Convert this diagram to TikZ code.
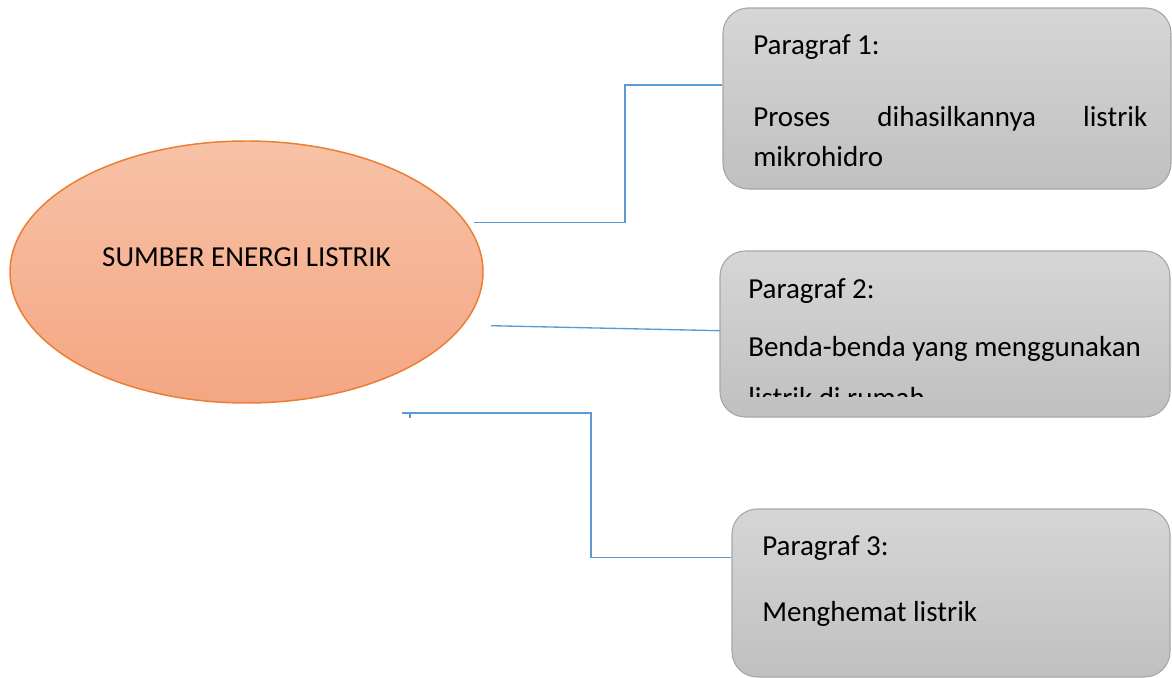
\documentclass[tikz,border=0pt]{standalone}
\usepackage{fontspec}
\setmainfont{Carlito}
\usetikzlibrary{shapes.geometric}
\definecolor{linkblue}{HTML}{5B9BD5}
\definecolor{ovaltop}{HTML}{F7C2A6}
\definecolor{ovalbot}{HTML}{F4A683}
\definecolor{ovalrim}{HTML}{ED7D31}
\definecolor{boxtop}{HTML}{D6D6D6}
\definecolor{boxbot}{HTML}{C0C0C0}
\definecolor{boxrim}{HTML}{A6A6A6}
\tikzset{
  link/.style={linkblue,line width=1pt},
  parabox/.style={rectangle,rounded corners=19pt,draw=boxrim,line width=0.8pt,
    top color=boxtop,bottom color=boxbot,inner sep=0pt},
  txt/.style={anchor=base west,inner sep=0pt,font=\fontsize{21.75pt}{26pt}\selectfont}
}
\begin{document}
\begin{tikzpicture}[x=0.75pt,y=-0.75pt]
\useasboundingbox (0,0) rectangle (1172,678);

			% main oval
			\node[ellipse,draw=ovalrim,line width=1.1pt,top color=ovaltop,bottom color=ovalbot,
			      minimum width=354.75pt,minimum height=196.5pt,inner sep=0pt] (sumber) at (246.5,272) {};
			\node[txt,anchor=base] (judul) at (246.5,266) {SUMBER ENERGI LISTRIK};

			% paragraph boxes
			\node[parabox,minimum width=336pt,minimum height=135.75pt] (box1) at (947,98.5) {};
			\node[parabox,minimum width=337.5pt,minimum height=124.5pt] (box2) at (945,334) {};
			\node[parabox,minimum width=328.5pt,minimum height=126pt] (box3) at (951,593) {};

			\node[txt] (p1a) at (753,55) {Paragraf 1:};
			\node[txt] (p1b) at (753,126) {\makebox[295.5pt][s]{Proses dihasilkannya listrik}};
			\node[txt] (p1c) at (753,166) {mikrohidro};

			\node[txt] (p2a) at (748,298) {Paragraf 2:};
			\node[txt] (p2b) at (748,356) {Benda-benda yang menggunakan};
			\begin{scope}
				\clip (730,380) rectangle (1160,396);
				\node[txt] (p2c) at (748,407) {listrik di rumah};
			\end{scope}

			\node[txt] (p3a) at (762,555) {Paragraf 3:};
			\node[txt] (p3b) at (762,621) {Menghemat listrik};

			% connectors
			\coordinate (s1) at (474,222.5);
			\coordinate (k1) at (625,85);
			\coordinate (s2) at (491,325.7);
			\coordinate (e2) at (720,330.7);
			\coordinate (s3) at (402,413);
			\coordinate (k3) at (591,557.7);
			\draw[link] (s1) -| (k1) -- (k1 -| box1.west);
			\draw[link] (s2) -- (e2);
			\draw[link] (s3) -| (k3) -- (k3 -| box3.west);
			\draw[link] ([xshift=6pt]s3) -- ++(0,5);

\end{tikzpicture}
\end{document}
